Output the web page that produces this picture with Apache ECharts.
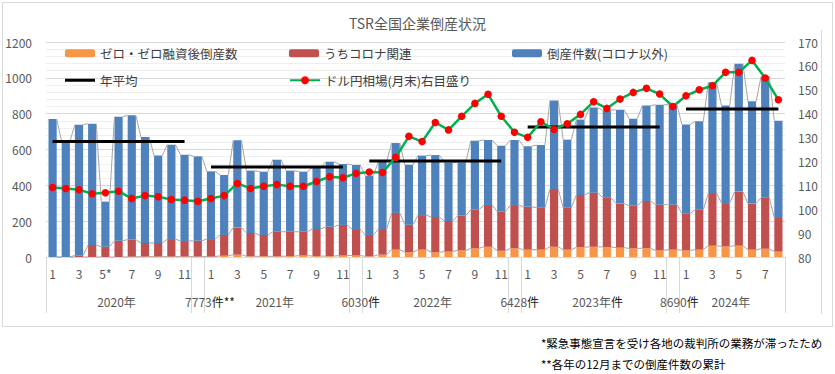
<!DOCTYPE html>
<html><head><meta charset="utf-8">
<script src="https://cdn.jsdelivr.net/npm/echarts@6/dist/echarts.min.js"></script>
<style>
html,body{margin:0;padding:0;background:#fff;}
#wrap{position:relative;width:835px;height:374px;}
#chart{position:absolute;left:0;top:0;width:835px;height:374px;}
#frame{position:absolute;left:2px;top:2px;width:831px;height:325px;border:1px solid #d9d9d9;box-sizing:border-box;pointer-events:none;}
#vline{position:absolute;left:821px;top:30px;width:1px;height:284px;background:#d9d9d9;pointer-events:none;}
</style></head>
<body><div id="wrap"><div id="frame"></div><div id="vline"></div><div id="chart"></div></div>
<script>
const categories = [
 '2020/1','2020/2','2020/3','2020/4','2020/5','2020/6','2020/7','2020/8','2020/9','2020/10','2020/11','2020/12',
 '2021/1','2021/2','2021/3','2021/4','2021/5','2021/6','2021/7','2021/8','2021/9','2021/10','2021/11','2021/12',
 '2022/1','2022/2','2022/3','2022/4','2022/5','2022/6','2022/7','2022/8','2022/9','2022/10','2022/11','2022/12',
 '2023/1','2023/2','2023/3','2023/4','2023/5','2023/6','2023/7','2023/8','2023/9','2023/10','2023/11','2023/12',
 '2024/1','2024/2','2024/3','2024/4','2024/5','2024/6','2024/7','2024/8'];
const monthTickLabels = [
 '1','','3','','5*','','7','','9','','11','',
 '1','','3','','5','','7','','9','','11','',
 '1','','3','','5','','7','','9','','11','',
 '1','','3','','5','','7','','9','','11','',
 '1','','3','','5','','7',''];
// ゼロ・ゼロ融資後倒産数 (orange segment)
const zeroZeroLoan = [
 0,0,0,0,0,0,1,2,2,2,2,2,
 2,7,13,4,4,4,5,8,5,5,8,8,
 4,13,41,26,41,26,30,37,48,57,35,48,
 41,41,57,41,54,57,56,52,48,49,37,41,
 37,41,63,59,63,41,46,30];
// うちコロナ関連 (red segment)
const coronaRelated = [
 0,0,9,67,57,91,96,76,76,98,87,89,
 98,116,151,130,119,137,136,133,151,164,171,148,
 119,143,205,154,193,197,171,194,216,233,218,242,
 240,234,323,234,292,302,275,246,238,264,255,251,
 205,223,294,242,302,257,285,188];
// 倒産件数(コロナ以外) (blue segment)
const nonCorona = [
 770,645,729,677,252,692,694,592,488,527,482,471,
 378,335,487,348,353,402,341,335,344,363,340,358,
 331,376,390,335,332,346,327,297,385,363,368,363,
 337,350,494,380,421,475,488,524,486,532,558,558,
 497,493,618,544,714,571,677,543];
// ドル円相場(月末)
const usdJpy = [
 109.1,108.7,108.2,106.5,106.9,107.5,104.5,105.7,105.2,104.1,103.8,103.3,
 104.5,105.7,110.8,108.7,109.6,110.3,109.6,109.6,111.6,113.6,113.2,115.0,
 115.6,115.4,121.7,130.5,128.3,136.3,133.2,138.9,144.3,148.1,138.9,132.2,
 130.1,136.6,133.4,135.8,139.7,145.0,142.2,146.1,148.9,150.6,148.2,143.0,
 147.5,150.0,151.7,157.3,157.3,162.3,154.9,145.8];
// 年平均
const yearAverage = [645, 502, 536, 726, 826];
const yearAverageFrom = ['2020/1','2021/1','2022/1','2023/1','2024/1'];
const yearAverageTo   = ['2020/11','2021/11','2022/11','2023/11','2024/8'];
// second-level axis labels
const groupLabels = ['2020年','7773件**','2021年','6030件','2022年','6428件','2023年件','8690件','2024年'];
const groupLabelAt = [4.84, 11.93, 16.83, 23.35, 28.8, 35.4, 41.3, 47.5, 51.4];
const groupSeparators = [-0.5, 10.5, 11.5, 22.5, 23.5, 34.5, 35.5, 46.5, 47.5, 55.5];
const leftTicks = {min:0, max:1200, interval:200};
const rightTicks = {min:80, max:170, interval:10};

const FONT = "'Noto Sans CJK JP','Noto Sans',sans-serif";
const N = categories.length;

// built tables
const avgData = categories.map((c, i) => {
  for (let k = 0; k < yearAverage.length; k++) {
    const a = categories.indexOf(yearAverageFrom[k]), b = categories.indexOf(yearAverageTo[k]);
    if (i >= a && i <= b) return yearAverage[k];
  }
  return null;
});
const lvl1 = zeroZeroLoan.slice();
const lvl2 = zeroZeroLoan.map((v, i) => v + coronaRelated[i]);
const lvl3 = lvl2.map((v, i) => v + nonCorona[i]);
const seriesLineData = [];
for (let i = 0; i < N - 1; i++) {
  seriesLineData.push([i, lvl1[i], lvl2[i], lvl3[i], lvl1[i + 1], lvl2[i + 1], lvl3[i + 1]]);
}
const BAR_RATIO = 0.62;

function groupFormatter(v) {
  for (let k = 0; k < groupLabelAt.length; k++) {
    if (Math.abs(v - groupLabelAt[k]) < 1e-6) {
      const m = groupLabels[k].match(/^([0-9年]+)(.*)$/);
      return m[2] ? '{g|' + m[1] + '}{k|' + m[2] + '}' : '{g|' + m[1] + '}';
    }
  }
  return '';
}

const chart = echarts.init(document.getElementById('chart'), null, {renderer: 'svg'});
const legendBase = {padding: 0, itemWidth: 30, itemHeight: 8, selectedMode: false,
  textStyle: {fontSize: 12.5, color: '#404040', fontFamily: FONT}};
chart.setOption({
  animation: false,
  textStyle: {fontFamily: FONT},
  title: {text: 'TSR全国企業倒産状況', left: 'center', top: 11,
    textStyle: {fontSize: 14, fontWeight: 'normal', color: '#595959', fontFamily: FONT}},
  legend: [
    Object.assign({}, legendBase, {data: ['ゼロ・ゼロ融資後倒産数'], left: 65, top: 47}),
    Object.assign({}, legendBase, {data: ['うちコロナ関連'], left: 289, top: 47}),
    Object.assign({}, legendBase, {data: ['倒産件数(コロナ以外)'], left: 512, top: 47}),
    Object.assign({}, legendBase, {data: [{name: '年平均', icon: 'rect'}], left: 65, top: 74, itemHeight: 3}),
    Object.assign({}, legendBase, {data: ['ドル円相場(月末)右目盛り'], left: 289, top: 74, itemHeight: 10})
  ],
  grid: {left: 46, right: 50, top: 42, bottom: 117},
  xAxis: [
    {type: 'category', data: categories, axisTick: {show: false},
     axisLine: {lineStyle: {color: '#d9d9d9'}},
     axisLabel: {interval: 0, formatter: (v, idx) => monthTickLabels[idx], margin: 10,
       fontSize: 12, color: '#595959', fontFamily: FONT}},
    {type: 'value', min: -0.5, max: 55.5, position: 'bottom', axisLine: {show: false},
     splitLine: {show: false},
     axisTick: {show: true, customValues: groupSeparators, length: 56, lineStyle: {color: '#d9d9d9'}},
     axisLabel: {customValues: groupLabelAt, formatter: groupFormatter, margin: 38,
       rich: {g: {fontSize: 12, color: '#595959', fontFamily: FONT},
              k: {fontSize: 12, color: '#222', fontFamily: FONT}}}}
  ],
  yAxis: [
    {type: 'value', min: leftTicks.min, max: leftTicks.max, interval: leftTicks.interval,
     axisLine: {show: false}, axisTick: {show: false},
     axisLabel: {fontSize: 12, color: '#595959', margin: 14, fontFamily: FONT, formatter: v => String(v)},
     splitLine: {lineStyle: {color: '#d9d9d9'}},
     minorTick: {show: false, splitNumber: 5},
     minorSplitLine: {show: true, lineStyle: {color: '#efefef'}}},
    {type: 'value', min: rightTicks.min, max: rightTicks.max, interval: rightTicks.interval, position: 'right',
     axisLine: {show: false}, axisTick: {show: false}, splitLine: {show: false},
     axisLabel: {fontSize: 12, color: '#595959', margin: 13, fontFamily: FONT, formatter: v => String(v)}}
  ],
  series: [
    {name: 'ゼロ・ゼロ融資後倒産数', type: 'bar', stack: 'a', data: zeroZeroLoan,
     barWidth: (BAR_RATIO * 100) + '%', itemStyle: {color: '#f79646'}, z: 2},
    {name: 'うちコロナ関連', type: 'bar', stack: 'a', data: coronaRelated,
     itemStyle: {color: '#c0504d'}, z: 2},
    {name: '倒産件数(コロナ以外)', type: 'bar', stack: 'a', data: nonCorona,
     itemStyle: {color: '#4f81bd'}, z: 2},
    {name: 'seriesLines', type: 'custom', data: seriesLineData, encode: {x: 0, y: 3}, z: 3,
     silent: true,
     renderItem: function (params, api) {
       const i = api.value(0);
       const half = api.size([1, 0])[0] * BAR_RATIO / 2;
       const children = [];
       for (let k = 1; k <= 3; k++) {
         const a = api.coord([i, api.value(k)]);
         const b = api.coord([i + 1, api.value(k + 3)]);
         children.push({type: 'line', shape: {x1: a[0] + half, y1: a[1], x2: b[0] - half, y2: b[1]},
           style: {stroke: '#a6a6a6', lineWidth: 1}});
       }
       return {type: 'group', children: children};
     }},
    {name: '年平均', type: 'line', data: avgData, connectNulls: false, symbol: 'none',
     lineStyle: {color: '#000', width: 3}, itemStyle: {color: '#000'}, z: 4},
    {name: 'ドル円相場(月末)右目盛り', type: 'line', yAxisIndex: 1, data: usdJpy,
     symbol: 'circle', symbolSize: 7.5, lineStyle: {color: '#00b050', width: 2.5},
     itemStyle: {color: '#ff0000'}, z: 5}
  ],
  graphic: [
    {type: 'text', left: 541, top: 337, style: {text: '*緊急事態宣言を受け各地の裁判所の業務が滞ったため',
      fontSize: 11.5, fill: '#000', fontFamily: FONT}},
    {type: 'text', left: 541, top: 358, style: {text: '**各年の12月までの倒産件数の累計',
      fontSize: 11.5, fill: '#000', fontFamily: FONT}}
  ]
});
</script>
</body></html>
